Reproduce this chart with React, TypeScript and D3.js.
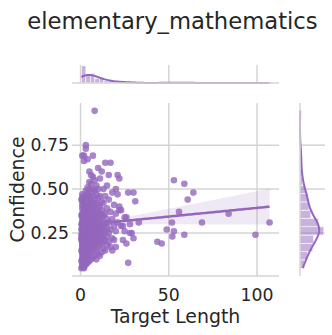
import * as d3 from 'd3';
import { useEffect, useRef } from 'react';

const title = 'elementary_mathematics';
const xLabel = 'Target Length';
const yLabel = 'Confidence';
const xTicks = [0, 50, 100];
const yTicks = [0.25, 0.5, 0.75];

// target lengths in the dense cluster, one confidence list per length
const lengthGroups = [0.5, 1, 2, 3, 4, 5, 6, 7, 8, 9, 10, 11, 12, 13, 14, 15, 16, 17, 18, 19, 20, 21, 22, 23, 24, 25, 26, 27, 28, 29, 30, 31, 33];
const confidenceGroups = [
  [0.05, 0.09, 0.15, 0.21, 0.24, 0.27, 0.3, 0.35, 0.44, 0.22],
  [0.06, 0.11, 0.13, 0.17, 0.19, 0.2, 0.22, 0.23, 0.25, 0.26, 0.27, 0.28, 0.28, 0.3, 0.31, 0.32, 0.34, 0.35, 0.36, 0.39, 0.41, 0.43, 0.45, 0.47, 0.07, 0.1, 0.14, 0.16, 0.69, 0.18, 0.24, 0.09],
  [0.05, 0.08, 0.12, 0.15, 0.17, 0.19, 0.2, 0.22, 0.23, 0.24, 0.25, 0.26, 0.27, 0.27, 0.29, 0.3, 0.3, 0.31, 0.33, 0.34, 0.35, 0.37, 0.38, 0.4, 0.42, 0.44, 0.46, 0.06, 0.11, 0.13, 0.16, 0.66, 0.69, 0.18, 0.28],
  [0.07, 0.1, 0.14, 0.16, 0.19, 0.21, 0.22, 0.24, 0.25, 0.26, 0.27, 0.28, 0.29, 0.31, 0.32, 0.33, 0.35, 0.36, 0.38, 0.41, 0.43, 0.46, 0.49, 0.08, 0.12, 0.17, 0.73, 0.75, 0.2, 0.3],
  [0.08, 0.12, 0.15, 0.18, 0.2, 0.21, 0.23, 0.24, 0.25, 0.26, 0.27, 0.28, 0.29, 0.3, 0.31, 0.32, 0.34, 0.35, 0.37, 0.39, 0.42, 0.45, 0.48, 0.51, 0.1, 0.14, 0.67, 0.22],
  [0.09, 0.13, 0.16, 0.18, 0.2, 0.22, 0.23, 0.25, 0.26, 0.27, 0.28, 0.29, 0.3, 0.32, 0.33, 0.35, 0.37, 0.4, 0.43, 0.46, 0.5, 0.54, 0.6, 0.24, 0.31],
  [0.1, 0.14, 0.17, 0.19, 0.21, 0.23, 0.24, 0.26, 0.27, 0.28, 0.3, 0.31, 0.33, 0.35, 0.38, 0.41, 0.44, 0.48, 0.53, 0.58, 0.25, 0.29],
  [0.11, 0.15, 0.18, 0.2, 0.22, 0.24, 0.25, 0.27, 0.28, 0.3, 0.32, 0.34, 0.36, 0.39, 0.42, 0.46, 0.5, 0.57, 0.26, 0.69],
  [0.12, 0.16, 0.19, 0.21, 0.23, 0.25, 0.26, 0.28, 0.3, 0.31, 0.33, 0.36, 0.4, 0.44, 0.49, 0.55, 0.945, 0.27],
  [0.1, 0.15, 0.19, 0.22, 0.24, 0.26, 0.28, 0.3, 0.32, 0.35, 0.38, 0.42, 0.47, 0.52, 0.27],
  [0.13, 0.17, 0.2, 0.23, 0.25, 0.27, 0.29, 0.31, 0.34, 0.37, 0.41, 0.45, 0.5, 0.62],
  [0.12, 0.18, 0.21, 0.24, 0.26, 0.28, 0.3, 0.33, 0.36, 0.4, 0.46, 0.56],
  [0.14, 0.19, 0.22, 0.25, 0.28, 0.3, 0.34, 0.38, 0.43, 0.6],
  [0.16, 0.2, 0.24, 0.27, 0.31, 0.35, 0.42, 0.5],
  [0.15, 0.21, 0.26, 0.3, 0.36, 0.46, 0.65],
  [0.18, 0.23, 0.28, 0.33, 0.39, 0.52],
  [0.2, 0.25, 0.31, 0.44, 0.58],
  [0.17, 0.27, 0.37, 0.65],
  [0.15, 0.22, 0.33, 0.48],
  [0.21, 0.29, 0.41],
  [0.17, 0.26, 0.5, 0.36],
  [0.47, 0.58, 0.31],
  [0.4, 0.56, 0.38],
  [0.38, 0.29],
  [0.29, 0.21],
  [0.26, 0.34],
  [0.34, 0.19],
  [0.08, 0.48],
  [0.25, 0.3],
  [0.25],
  [0.48, 0.22],
  [0.43],
  [0.31],
];

// the sparse long-target points
const outlierLength = [43.5, 46, 48.8, 51.8, 52, 52.9, 52.9, 55.8, 58.8, 58.8, 60.7, 63.9, 68.8, 83.9, 99.1, 107.1];
const outlierConfidence = [0.2, 0.19, 0.27, 0.31, 0.23, 0.55, 0.26, 0.37, 0.53, 0.24, 0.44, 0.48, 0.31, 0.36, 0.24, 0.31];

const purple = '#9467bd';
const gridColor = '#d4d4d4';
const textColor = '#262626';
const font = '"DejaVu Sans", sans-serif';

const targetLength = [
  ...lengthGroups.flatMap((length, index) => confidenceGroups[index].map(() => length)),
  ...outlierLength,
];
const confidence = [...confidenceGroups.flat(), ...outlierConfidence];

// numpy "auto" bin edges
const binEdges = (values: number[]) => {
  const sorted = [...values].sort((a, b) => a - b);
  const n = sorted.length;
  const lo = sorted[0];
  const hi = sorted[n - 1];
  const span = hi - lo;
  const sturges = span / (Math.log2(n) + 1);
  const iqr = (d3.quantileSorted(sorted, 0.75) ?? 0) - (d3.quantileSorted(sorted, 0.25) ?? 0);
  const fd = 2 * iqr * Math.pow(n, -1 / 3);
  const width = fd > 0 ? Math.min(fd, sturges) : sturges;
  const count = Math.ceil(span / width);
  return d3.range(count + 1).map((i) => lo + (span * i) / count);
};

const histogram = (values: number[], edges: number[]) => {
  const lo = edges[0];
  const count = edges.length - 1;
  const step = (edges[count] - lo) / count;
  const counts = new Array(count).fill(0);
  values.forEach((value) => {
    counts[Math.min(count - 1, Math.floor((value - lo) / step))] += 1;
  });
  return counts.map((c, i) => ({ x0: edges[i], x1: edges[i + 1], count: c }));
};

// gaussian kde (scott bandwidth), scaled to counts, clipped to the data range
const kdeCounts = (values: number[], binWidth: number) => {
  const n = values.length;
  const bw = (d3.deviation(values) ?? 1) * Math.pow(n, -0.2);
  const [lo, hi] = d3.extent(values) as [number, number];
  const norm = 1 / (n * bw * Math.sqrt(2 * Math.PI));
  return d3.range(201).map((i) => {
    const at = lo + ((hi - lo) * i) / 200;
    const density = norm * d3.sum(values, (v) => Math.exp(-0.5 * ((at - v) / bw) ** 2));
    return { at, value: density * n * binWidth };
  });
};

const App = () => {
  const svgRef = useRef<SVGSVGElement | null>(null);

  useEffect(() => {
    if (!svgRef.current) return;
    const svg = d3.select(svgRef.current);
    svg.selectAll('*').remove();

    const main = { left: 72, right: 279, top: 103, bottom: 276 };
    const topBox = { top: 65, bottom: 83 };
    const sideBox = { left: 300, right: 325 };

    const [xMin, xMax] = d3.extent(targetLength) as [number, number];
    const [yMin, yMax] = d3.extent(confidence) as [number, number];
    const xPad = (xMax - xMin) * 0.05;
    const yPad = (yMax - yMin) * 0.05;
    const x = d3.scaleLinear().domain([xMin - xPad, xMax + xPad]).range([main.left, main.right]);
    const y = d3.scaleLinear().domain([yMin - yPad, yMax + yPad]).range([main.bottom, main.top]);

    // title
    svg
      .append('text')
      .attr('x', 172.5)
      .attr('y', 29)
      .attr('text-anchor', 'middle')
      .attr('fill', textColor)
      .style('font-family', font)
      .style('font-size', '22.7px')
      .text(title);

    // main grid
    const grid = svg.append('g').attr('stroke', gridColor).attr('stroke-width', 1.5);
    grid
      .selectAll('line.v')
      .data(xTicks)
      .join('line')
      .attr('x1', (d) => x(d))
      .attr('x2', (d) => x(d))
      .attr('y1', main.top)
      .attr('y2', main.bottom);
    grid
      .selectAll('line.h')
      .data(yTicks)
      .join('line')
      .attr('class', 'h')
      .attr('x1', main.left)
      .attr('x2', main.right)
      .attr('y1', (d) => y(d))
      .attr('y2', (d) => y(d));

    // regression fit with 95% interval
    const n = targetLength.length;
    const xBar = d3.mean(targetLength) ?? 0;
    const yBar = d3.mean(confidence) ?? 0;
    const sxx = d3.sum(targetLength, (v) => (v - xBar) ** 2);
    const sxy = d3.sum(targetLength, (v, i) => (v - xBar) * (confidence[i] - yBar));
    const slope = sxy / sxx;
    const intercept = yBar - slope * xBar;
    const residual = Math.sqrt(
      d3.sum(targetLength, (v, i) => (confidence[i] - intercept - slope * v) ** 2) / (n - 2)
    );
    const fit = d3.range(101).map((i) => {
      const at = xMin + ((xMax - xMin) * i) / 100;
      const mid = intercept + slope * at;
      const half = 1.967 * residual * Math.sqrt(1 / n + (at - xBar) ** 2 / sxx);
      return { at, mid, lo: mid - half, hi: mid + half };
    });

    // scatter
    svg
      .append('g')
      .selectAll('circle')
      .data(targetLength.map((v, i) => ({ length: v, conf: confidence[i] })))
      .join('circle')
      .attr('cx', (d) => x(d.length))
      .attr('cy', (d) => y(d.conf))
      .attr('r', 3.3)
      .attr('fill', purple)
      .attr('fill-opacity', 0.8);

    svg
      .append('path')
      .datum(fit)
      .attr('fill', purple)
      .attr('fill-opacity', 0.15)
      .attr(
        'd',
        d3
          .area<(typeof fit)[number]>()
          .x((d) => x(d.at))
          .y0((d) => y(d.lo))
          .y1((d) => y(d.hi))
      );

    svg
      .append('path')
      .datum(fit)
      .attr('fill', 'none')
      .attr('stroke', purple)
      .attr('stroke-width', 2.5)
      .attr(
        'd',
        d3
          .line<(typeof fit)[number]>()
          .x((d) => x(d.at))
          .y((d) => y(d.mid))
      );

    svg
      .append('line')
      .attr('x1', main.left)
      .attr('x2', main.right)
      .attr('y1', main.bottom)
      .attr('y2', main.bottom)
      .attr('stroke', gridColor)
      .attr('stroke-width', 1.5);

    // tick labels
    svg
      .append('g')
      .selectAll('text')
      .data(xTicks)
      .join('text')
      .attr('x', (d) => x(d))
      .attr('y', 301)
      .attr('text-anchor', 'middle')
      .attr('fill', textColor)
      .style('font-family', font)
      .style('font-size', '17.3px')
      .text((d) => d3.format('d')(d));

    svg
      .append('g')
      .selectAll('text')
      .data(yTicks)
      .join('text')
      .attr('x', 69)
      .attr('y', (d) => y(d))
      .attr('dy', '0.36em')
      .attr('text-anchor', 'end')
      .attr('fill', textColor)
      .style('font-family', font)
      .style('font-size', '17.3px')
      .text((d) => d3.format('.2f')(d));

    svg
      .append('text')
      .attr('x', (main.left + main.right) / 2)
      .attr('y', 323)
      .attr('text-anchor', 'middle')
      .attr('fill', textColor)
      .style('font-family', font)
      .style('font-size', '18.9px')
      .text(xLabel);

    svg
      .append('text')
      .attr('transform', `translate(24, ${(main.top + main.bottom) / 2}) rotate(-90)`)
      .attr('text-anchor', 'middle')
      .attr('fill', textColor)
      .style('font-family', font)
      .style('font-size', '18.9px')
      .text(yLabel);

    // top marginal
    const xEdges = binEdges(targetLength);
    const xBins = histogram(targetLength, xEdges);
    const xBinWidth = xEdges[1] - xEdges[0];
    const xCurve = kdeCounts(targetLength, xBinWidth);
    const topCount = d3
      .scaleLinear()
      .domain([0, Math.max(d3.max(xBins, (b) => b.count) ?? 1, d3.max(xCurve, (c) => c.value) ?? 1) * 1.05])
      .range([topBox.bottom, topBox.top]);

    svg
      .append('g')
      .selectAll('line')
      .data(xTicks)
      .join('line')
      .attr('x1', (d) => x(d))
      .attr('x2', (d) => x(d))
      .attr('y1', topBox.top)
      .attr('y2', topBox.bottom)
      .attr('stroke', gridColor)
      .attr('stroke-width', 1.5);

    svg
      .append('g')
      .selectAll('rect')
      .data(xBins)
      .join('rect')
      .attr('x', (b) => x(b.x0))
      .attr('width', (b) => x(b.x1) - x(b.x0))
      .attr('y', (b) => topCount(b.count))
      .attr('height', (b) => topBox.bottom - topCount(b.count))
      .attr('fill', purple)
      .attr('fill-opacity', 0.5)
      .attr('stroke', '#ffffff')
      .attr('stroke-width', 0.6);

    svg
      .append('path')
      .datum(xCurve)
      .attr('fill', 'none')
      .attr('stroke', purple)
      .attr('stroke-width', 2)
      .attr(
        'd',
        d3
          .line<(typeof xCurve)[number]>()
          .x((c) => x(c.at))
          .y((c) => topCount(c.value))
      );

    svg
      .append('line')
      .attr('x1', main.left)
      .attr('x2', main.right)
      .attr('y1', topBox.bottom)
      .attr('y2', topBox.bottom)
      .attr('stroke', gridColor)
      .attr('stroke-width', 1.5);

    // side marginal
    const yEdges = binEdges(confidence);
    const yBins = histogram(confidence, yEdges);
    const yBinWidth = yEdges[1] - yEdges[0];
    const yCurve = kdeCounts(confidence, yBinWidth);
    const sideCount = d3
      .scaleLinear()
      .domain([0, Math.max(d3.max(yBins, (b) => b.count) ?? 1, d3.max(yCurve, (c) => c.value) ?? 1) * 1.05])
      .range([sideBox.left, sideBox.right]);

    svg
      .append('g')
      .selectAll('line')
      .data(yTicks)
      .join('line')
      .attr('x1', sideBox.left)
      .attr('x2', sideBox.right)
      .attr('y1', (d) => y(d))
      .attr('y2', (d) => y(d))
      .attr('stroke', gridColor)
      .attr('stroke-width', 1.5);

    svg
      .append('g')
      .selectAll('rect')
      .data(yBins)
      .join('rect')
      .attr('x', sideBox.left)
      .attr('width', (b) => sideCount(b.count) - sideBox.left)
      .attr('y', (b) => y(b.x1))
      .attr('height', (b) => y(b.x0) - y(b.x1))
      .attr('fill', purple)
      .attr('fill-opacity', 0.5)
      .attr('stroke', '#ffffff')
      .attr('stroke-width', 0.6);

    svg
      .append('path')
      .datum(yCurve)
      .attr('fill', 'none')
      .attr('stroke', purple)
      .attr('stroke-width', 2)
      .attr(
        'd',
        d3
          .line<(typeof yCurve)[number]>()
          .x((c) => sideCount(c.value))
          .y((c) => y(c.at))
      );

    svg
      .append('line')
      .attr('x1', sideBox.left)
      .attr('x2', sideBox.left)
      .attr('y1', main.top)
      .attr('y2', main.bottom)
      .attr('stroke', gridColor)
      .attr('stroke-width', 1.5);
  }, []);

  return (
    <svg
      ref={svgRef}
      width={332}
      height={335}
      style={{ position: 'absolute', left: 0, top: 0, background: '#ffffff' }}
    />
  );
};

export default App;
